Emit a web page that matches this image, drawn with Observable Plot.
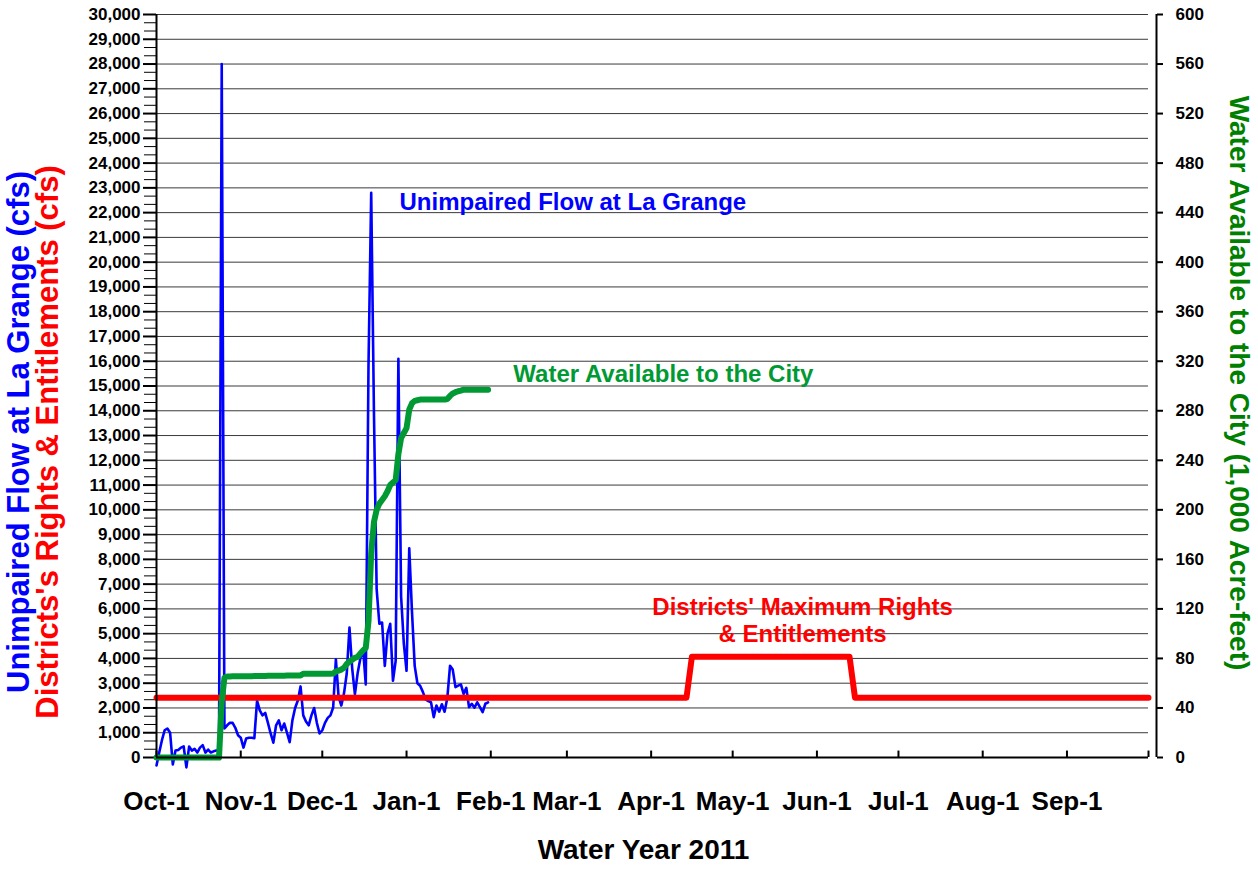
<!DOCTYPE html>
<html><head><meta charset="utf-8">
<script src="https://cdn.jsdelivr.net/npm/d3@7"></script>
<script src="https://cdn.jsdelivr.net/npm/@observablehq/plot@0.6"></script>
<style>body{margin:0;background:#fff} svg{display:block}</style>
</head><body><div id="chart"></div>
<script>
// Unimpaired flow at La Grange (cfs), daily from Oct-1 (day 0) to Jan-31 (day 122)
const flowCfs = [
  -320, 200, 700, 1100, 1170, 1000, -280, 280, 300, 400,
  450, -400, 440, 280, 350, 200, 400, 500, 200, 320,
  200, 250, 280, 300, 28000, 1170, 1300, 1400, 1400, 1200,
  900, 800, 400, 770, 800, 800, 780, 2300, 1900, 1700,
  1800, 1400, 970, 600, 1300, 1500, 1100, 1370, 1000, 620,
  1500, 2000, 2300, 2870, 1700, 1450, 1300, 1700, 2000, 1400,
  970, 1100, 1400, 1600, 1700, 2020, 3960, 2450, 2100, 2600,
  3390, 5250, 3600, 2550, 3400, 4000, 4400, 2950, 15800, 22800,
  14000, 6800, 5400, 5450, 3700, 5000, 5400, 3100, 3900, 16100,
  6500, 4600, 3500, 8450, 5900, 3700, 3000, 2900, 2650, 2350,
  2280, 2230, 1630, 2100, 1850, 2150, 1850, 2400, 3700, 3550,
  2840, 2900, 2950, 2570, 2810, 2030, 2170, 2010, 2230, 2030,
  1830, 2170, 2230
];
// Water available to the City (1,000 acre-feet), daily from day 0 to day 122
const cityKaf = [
  0, 0, 0, 0, 0, 0, 0, 0, 0, 0,
  0, 0, 0, 0, 0, 0, 0, 0, 0, 0,
  0, 0, 0, 0, 45, 64.5, 65.5, 65.5, 65.6, 65.6,
  65.6, 65.6, 65.7, 65.7, 65.7, 65.7, 65.8, 65.8, 65.8, 65.9,
  65.9, 66, 66, 66, 66, 66.1, 66.1, 66.1, 66.2, 66.2,
  66.2, 66.2, 66.3, 66.3, 67.6, 67.6, 67.6, 67.6, 67.6, 67.6,
  67.6, 67.6, 67.7, 67.7, 67.7, 67.8, 69.5, 70.2, 71, 72.5,
  75.5, 77.5, 79, 80.5, 81.2, 84, 86.5, 88.5, 110, 165,
  190, 200, 205, 208, 211, 215, 220, 222, 224, 245,
  258, 262, 266, 281, 286, 288, 288.5, 289, 289, 289,
  289, 289, 289, 289, 289, 289, 289, 289.5, 292, 294,
  295, 295.8, 296.3, 297, 297, 297, 297, 297, 297, 297,
  297, 297, 297
];
// Districts' maximum rights & entitlements (cfs), break points
const rightsDay = [0, 195, 197, 255, 257, 365];
const rightsCfs = [2416, 2416, 4066, 4066, 2416, 2416];

const monthDays = [0, 31, 61, 92, 123, 151, 182, 212, 243, 273, 304, 335];
const monthLabels = ["Oct-1", "Nov-1", "Dec-1", "Jan-1", "Feb-1", "Mar-1", "Apr-1", "May-1", "Jun-1", "Jul-1", "Aug-1", "Sep-1"];
const leftTicks = d3.range(0, 30001, 1000);
const minorTicks = d3.range(0, 90001, 1000).map(v => v / 3).filter(v => v % 1000 !== 0 && v < 30000);
const rightTicks = d3.range(0, 601, 40);
const rightFactor = 50; // 600 (1,000 AF) == 30,000 cfs on the chart

const flow = flowCfs.map((v, i) => ({day: i, v}));
const city = cityKaf.map((v, i) => ({day: i, v: v * rightFactor}));
const rights = rightsDay.map((d, i) => ({day: d, v: rightsCfs[i]}));

const font = "Arial, 'Liberation Sans', sans-serif";
const BLUE = "#0000ff", RED = "#ff0000", GREEN = "#009933", DGREEN = "#008000";

const chart = Plot.plot({
  width: 1258, height: 873,
  marginLeft: 156, marginRight: 110, marginTop: 14, marginBottom: 116,
  style: {fontFamily: font, background: "#fff", color: "#000"},
  x: {domain: [0, 365], axis: null},
  y: {domain: [0, 30000], axis: null},
  marks: [
    Plot.ruleY(leftTicks.slice(1), {stroke: "#3a3a3a", strokeWidth: 1}),
    Plot.axisY({anchor: "left", ticks: minorTicks, tickSize: 12, tickFormat: () => "", label: null, strokeWidth: 1}),
    Plot.axisY({anchor: "left", ticks: leftTicks, tickSize: 13, tickPadding: 3, strokeWidth: 2, label: null,
      tickFormat: d3.format(","), fontSize: 17, fontWeight: "bold", fill: "#000"}),
    Plot.axisY({anchor: "right", ticks: rightTicks.map(v => v * rightFactor), tickFormat: d => String(d / rightFactor), label: null,
      tickSize: 6, tickPadding: 13, dx: 8, strokeWidth: 2, fontSize: 17, fontWeight: "bold", fill: "#000"}),
    Plot.ruleX(monthDays.concat([365]), {y1: 0, y2: 260, strokeWidth: 2}),
    Plot.axisX({anchor: "bottom", ticks: monthDays, tickSize: 0, tickPadding: 34, label: null,
      tickFormat: d => monthLabels[monthDays.indexOf(d)], fontSize: 26, fontWeight: "bold", fill: "#000"}),
    Plot.line(flow, {x: "day", y: "v", stroke: BLUE, strokeWidth: 2.6}),
    Plot.line(rights, {x: "day", y: "v", stroke: RED, strokeWidth: 6}),
    Plot.line(city, {x: "day", y: "v", stroke: GREEN, strokeWidth: 6, strokeLinejoin: "round"}),
    Plot.ruleX([0], {stroke: "#000", strokeWidth: 2}),
    Plot.ruleY([0], {stroke: "#000", strokeWidth: 2}),
    Plot.ruleX([365], {dx: 8, stroke: "#000", strokeWidth: 2}),
    // annotations
    Plot.text(["Unimpaired Flow at La Grange"], {x: 89.4, y: 22400, textAnchor: "start", fill: BLUE, fontSize: 24, fontWeight: "bold"}),
    Plot.text(["Water Available to the City"], {x: 131.3, y: 15460, textAnchor: "start", fill: GREEN, fontSize: 24, fontWeight: "bold"}),
    Plot.text(["Districts' Maximum Rights"], {x: 237.7, y: 6050, fill: RED, fontSize: 24, fontWeight: "bold"}),
    Plot.text(["& Entitlements"], {x: 237.7, y: 4960, fill: RED, fontSize: 24, fontWeight: "bold"}),
    // axis titles
    Plot.text(["Water Year 2011"], {frameAnchor: "bottom", dx: -9, dy: 101, fontSize: 28, fontWeight: "bold", fill: "#000"}),
    Plot.text(["Unimpaired Flow at La Grange (cfs)"], {frameAnchor: "left", textAnchor: "middle", rotate: -90, dx: -137, dy: 46, fill: BLUE, fontSize: 31, fontWeight: "bold"}),
    Plot.text(["Districts's Rights & Entitlements (cfs)"], {frameAnchor: "left", textAnchor: "middle", rotate: -90, dx: -108, dy: 56, fill: RED, fontSize: 31, fontWeight: "bold"}),
    Plot.text(["Water Available to the City (1,000 Acre-feet)"], {frameAnchor: "right", textAnchor: "middle", rotate: 90, dx: 90, dy: -3, fill: DGREEN, fontSize: 28, fontWeight: "bold"})
  ]
});
document.getElementById("chart").appendChild(chart);
</script>
</body></html>
